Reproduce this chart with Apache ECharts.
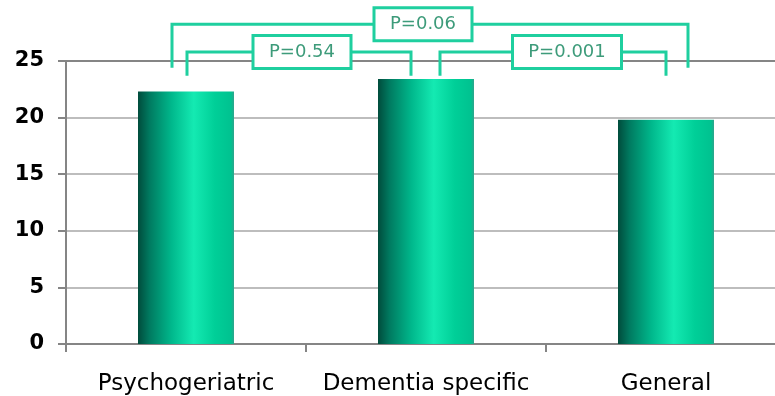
<!DOCTYPE html>
<html>
<head>
<meta charset="utf-8">
<script src="https://cdn.jsdelivr.net/npm/echarts@6/dist/echarts.min.js"></script>
<style>
  html, body { margin: 0; padding: 0; background: #fff; }
  #chart { width: 775px; height: 396px; }
</style>
</head>
<body>
<div id="chart"></div>
<script>
const categories = ['Psychogeriatric', 'Dementia specific', 'General']
const values = [22.3, 23.4, 19.8]
const yTicks = [0, 5, 10, 15, 20, 25]

// significance brackets: from/to category index, bar level, leg end, label
const bracketFrom = [0, 0, 1]
const bracketTo = [2, 1, 2]
const bracketTop = [28.25, 25.8, 25.8]
const bracketLeg = [24.4, 23.7, 23.7]
const bracketLabels = ['P=0.06', 'P=0.54', 'P=0.001']
// pixel nudges so the legs sit beside each bar centre, and the boxes off-centre
const legShift = [[-14, 22], [1, -15], [14, 0]]
const boxShift = [-7, 3, 14]

const teal = '#1fcf9f'

const chart = echarts.init(document.getElementById('chart'))

const barColor = new echarts.graphic.LinearGradient(0, 0, 1, 0, [
  { offset: 0, color: '#004c3c' },
  { offset: 0.12, color: '#007a60' },
  { offset: 0.35, color: '#00b88c' },
  { offset: 0.58, color: '#14eab2' },
  { offset: 0.8, color: '#00cf98' },
  { offset: 0.97, color: '#00c290' },
  { offset: 1, color: '#2fa48c' }
])

const bracketData = bracketLabels.map((label, i) => [
  bracketFrom[i], bracketTo[i], bracketTop[i], bracketLeg[i], i
])

chart.setOption({
  animation: false,
  grid: { left: 66, right: -11, top: 61, bottom: 52, outerBoundsMode: 'none', containLabel: false },
  xAxis: {
    type: 'category',
    data: categories,
    axisLine: { lineStyle: { color: '#858585', width: 2 } },
    axisTick: { show: true, interval: 0, length: 8, lineStyle: { color: '#858585', width: 2 } },
    axisLabel: {
      interval: 0,
      color: '#000',
      fontFamily: 'DejaVu Sans',
      fontSize: 23,
      margin: 29
    },
    splitLine: { show: false }
  },
  yAxis: {
    type: 'value',
    min: yTicks[0],
    max: yTicks[yTicks.length - 1],
    interval: 5,
    axisLine: { show: true, lineStyle: { color: '#858585', width: 2 } },
    axisTick: { show: true, length: 8, lineStyle: { color: '#858585', width: 2 } },
    axisLabel: {
      color: '#000',
      fontFamily: 'DejaVu Sans',
      fontWeight: 'bold',
      fontSize: 21,
      margin: 22
    },
    splitLine: {
      show: true,
      lineStyle: {
        color: ['#858585', '#bdbdbd', '#bdbdbd', '#bdbdbd', '#bdbdbd', '#858585'],
        width: 2
      }
    }
  },
  series: [
    {
      type: 'bar',
      data: values,
      barWidth: '40%',
      itemStyle: { color: barColor }
    },
    {
      type: 'custom',
      clip: false,
      z: 10,
      data: bracketData,
      renderItem(params, api) {
        const i = api.value(4)
        const a = api.coord([api.value(0), api.value(2)])
        const b = api.coord([api.value(1), api.value(2)])
        const leg = api.coord([0, api.value(3)])[1]
        const x1 = a[0] + legShift[i][0]
        const x2 = b[0] + legShift[i][1]
        const y = a[1]
        const mid = (x1 + x2) / 2 + boxShift[i]
        const label = bracketLabels[i]
        const boxW = label.length * 11 + 32
        const boxH = 33
        const line = { stroke: teal, lineWidth: 3, fill: null }
        return {
          type: 'group',
          children: [
            {
              type: 'polyline',
              shape: { points: [[x1, leg], [x1, y], [x2, y], [x2, leg]] },
              style: line
            },
            {
              type: 'rect',
              shape: { x: mid - boxW / 2, y: y - boxH / 2, width: boxW, height: boxH },
              style: { fill: '#fff', stroke: teal, lineWidth: 3 }
            },
            {
              type: 'text',
              x: mid,
              y: y,
              style: {
                text: label,
                fill: '#3d9b7a',
                font: '18px "DejaVu Sans"',
                align: 'center',
                verticalAlign: 'middle'
              }
            }
          ]
        }
      }
    }
  ]
})
</script>
</body>
</html>
